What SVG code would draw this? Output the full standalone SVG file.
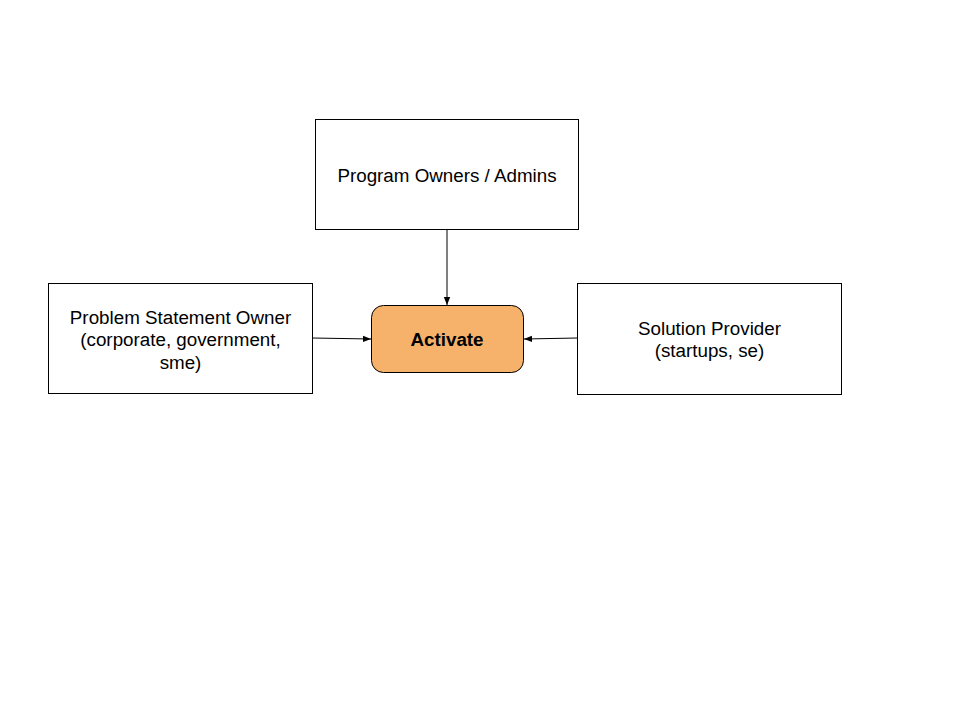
<svg xmlns="http://www.w3.org/2000/svg" width="960" height="720" viewBox="0 0 960 720">
<style>
.box{fill:#ffffff;stroke:#000000;stroke-width:1}
.lbl{font-family:"Liberation Sans",Arial,sans-serif;font-size:18.8px;fill:#000000;text-anchor:middle}
.conn{stroke:#000000;stroke-width:1;fill:none}
</style>
<defs>
<marker id="ah" viewBox="0 0 10 10" refX="10" refY="5" markerWidth="8" markerHeight="8" markerUnits="userSpaceOnUse" orient="auto">
<path d="M0,1 L10,5 L0,9 Z" fill="#000000"/>
</marker>
</defs>
<rect width="960" height="720" fill="#ffffff"/>
<g id="program-owners">
<rect class="box" x="315.5" y="119.5" width="263" height="110"/>
<text class="lbl" x="447" y="181.5">Program Owners / Admins</text>
</g>
<g id="problem-owner">
<rect class="box" x="48.5" y="283.5" width="264" height="110"/>
<text class="lbl" x="180.5" y="323.5">Problem Statement Owner</text>
<text class="lbl" x="180.5" y="346">(corporate, government,</text>
<text class="lbl" x="180.5" y="368.5">sme)</text>
</g>
<g id="solution-provider">
<rect class="box" x="577.5" y="283.5" width="264" height="111"/>
<text class="lbl" x="709.5" y="334.5">Solution Provider</text>
<text class="lbl" x="709.5" y="357">(startups, se)</text>
</g>
<g id="activate">
<rect x="371.5" y="305.5" width="152" height="67" rx="12" ry="12" fill="#f6b26b" stroke="#000000" stroke-width="1"/>
<text class="lbl" x="447" y="346" font-weight="bold">Activate</text>
</g>
<g id="connectors">
<line class="conn" x1="447" y1="229.5" x2="447" y2="305" marker-end="url(#ah)"/>
<line class="conn" x1="312.5" y1="338" x2="371" y2="339" marker-end="url(#ah)"/>
<line class="conn" x1="577.5" y1="338" x2="524" y2="339" marker-end="url(#ah)"/>
</g>
</svg>
